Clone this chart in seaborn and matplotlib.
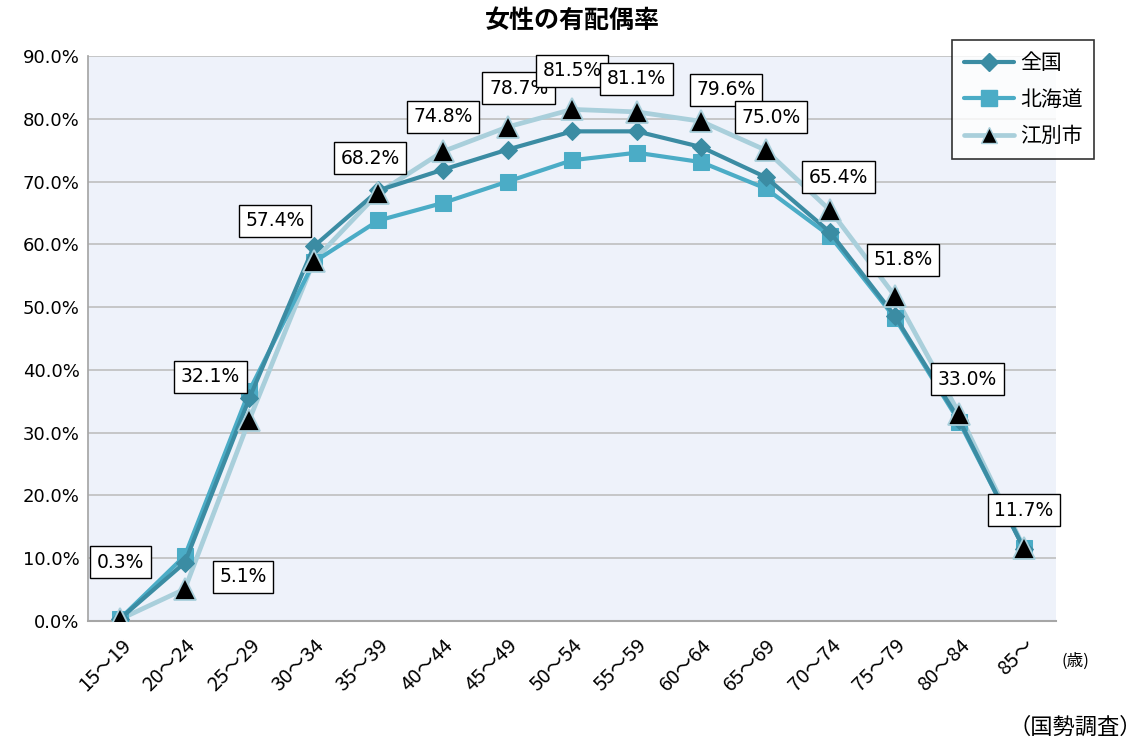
import matplotlib
matplotlib.use("Agg")
import matplotlib.pyplot as plt
from matplotlib.lines import Line2D
import seaborn as sns
import pandas as pd
import numpy as np

categories = ["15～19", "20～24", "25～29", "30～34", "35～39", "40～44", "45～49",
              "50～54", "55～59", "60～64", "65～69", "70～74", "75～79", "80～84", "85～"]
national = [0.4, 9.3, 35.5, 59.7, 68.6, 71.9, 75.1, 78.0, 78.0, 75.5, 70.7, 61.9, 48.6, 32.0, 11.5]
hokkaido = [0.4, 10.4, 36.7, 57.2, 63.8, 66.6, 70.0, 73.4, 74.6, 73.1, 68.9, 61.3, 48.3, 31.7, 11.6]
ebetsu = [0.3, 5.1, 32.1, 57.4, 68.2, 74.8, 78.7, 81.5, 81.1, 79.6, 75.0, 65.4, 51.8, 33.0, 11.7]
series_names = ["全国", "北海道", "江別市"]
yticks = [0, 10, 20, 30, 40, 50, 60, 70, 80, 90]

sns.set_theme(style="white")
plt.rcParams['font.family'] = ['Noto Sans CJK JP', 'DejaVu Sans']
plt.rcParams['text.color'] = 'black'
plt.rcParams['xtick.color'] = 'black'
plt.rcParams['ytick.color'] = 'black'

fig = plt.figure(figsize=(11.48, 7.44), dpi=100)
ax = fig.add_axes([0.0767, 0.1653, 0.8433, 0.7594])
ax.set_facecolor("#EEF2FA")

x = np.arange(len(categories))
df = pd.DataFrame({"x": np.tile(x, 3),
                   "v": national + hokkaido + ebetsu,
                   "s": np.repeat(series_names, len(categories))})

c_nat = "#3B8CA3"
c_hok = "#4BACC6"
c_ebe = "#A9CFDB"

sns.lineplot(data=df[df.s == "江別市"], x="x", y="v", ax=ax, color=c_ebe, lw=3.4,
             marker=None, zorder=3, legend=False)
sns.lineplot(data=df[df.s == "北海道"], x="x", y="v", ax=ax, color=c_hok, lw=3.0,
             marker="s", markersize=12, markerfacecolor=c_hok, markeredgecolor=c_hok,
             zorder=4, legend=False)
sns.lineplot(data=df[df.s == "全国"], x="x", y="v", ax=ax, color=c_nat, lw=3.0,
             marker="D", markersize=9, markerfacecolor=c_nat, markeredgecolor=c_nat,
             zorder=5, legend=False)
# triangles drawn on top
ax.plot(x, ebetsu, ls="none", marker="^", markersize=16, markerfacecolor="black",
        markeredgecolor=c_ebe, markeredgewidth=1.3, zorder=6)

offsets = [(0, 34), (42, 2), (-28, 24), (-28, 22), (-6, 18), (0, 18), (8, 21), (0, 21),
           (0, 17), (18, 16), (4, 17), (6, 17), (6, 19), (6, 18), (0, 20)]
for i, v in enumerate(ebetsu):
    ax.annotate(f"{v:.1f}%", (x[i], v), xytext=offsets[i], textcoords="offset points",
                ha="center", va="bottom", fontsize=13.5, family=['DejaVu Sans'],
                bbox=dict(boxstyle="square,pad=0.35", fc="white", ec="black", lw=1.0),
                zorder=7)

ax.set_xlim(-0.5, 14.5)
ax.set_ylim(0, 90)
ax.set_yticks(yticks)
ax.set_yticklabels([f"{t:.1f}%" for t in yticks], fontsize=13, family=['DejaVu Sans'])
ax.set_xticks(x)
ax.set_xticklabels(categories, rotation=45, ha="right", rotation_mode="anchor", fontsize=14.5)
ax.tick_params(axis="x", pad=10, length=0)
ax.tick_params(axis="y", length=0, pad=6)
ax.grid(axis="y", color="#BFBFBF", lw=1.2)
ax.set_axisbelow(True)
for s in ["top", "right"]:
    ax.spines[s].set_visible(False)
ax.spines["left"].set_color("#A6A6A6")
ax.spines["bottom"].set_color("#A6A6A6")
ax.spines["bottom"].set_linewidth(1.5)
ax.set_xlabel("")
ax.set_ylabel("")

ax.set_title("女性の有配偶率", fontsize=18, fontweight="bold", pad=20)

handles = [
    Line2D([], [], color=c_nat, lw=3.0, marker="D", markersize=9, markerfacecolor=c_nat),
    Line2D([], [], color=c_hok, lw=3.0, marker="s", markersize=11, markerfacecolor=c_hok),
    Line2D([], [], color=c_ebe, lw=3.4, marker="^", markersize=11, markerfacecolor="black",
           markeredgecolor=c_ebe),
]
leg = fig.legend(handles, series_names,
                 loc="upper left", bbox_to_anchor=(942 / 1148, 1 - 30 / 744),
                 frameon=True, fancybox=False, edgecolor="black", fontsize=15,
                 handlelength=2.4, labelspacing=0.7, borderpad=0.55, handletextpad=0.3)
leg.get_frame().set_linewidth(1.2)

fig.text(1075 / 1148, 1 - 661 / 744, "(歳)", ha="center", va="center", fontsize=12)
fig.text(1142 / 1148, 1 - 727 / 744, "（国勢調査）", ha="right", va="center", fontsize=16)

fig.savefig("out.png", dpi=100)
